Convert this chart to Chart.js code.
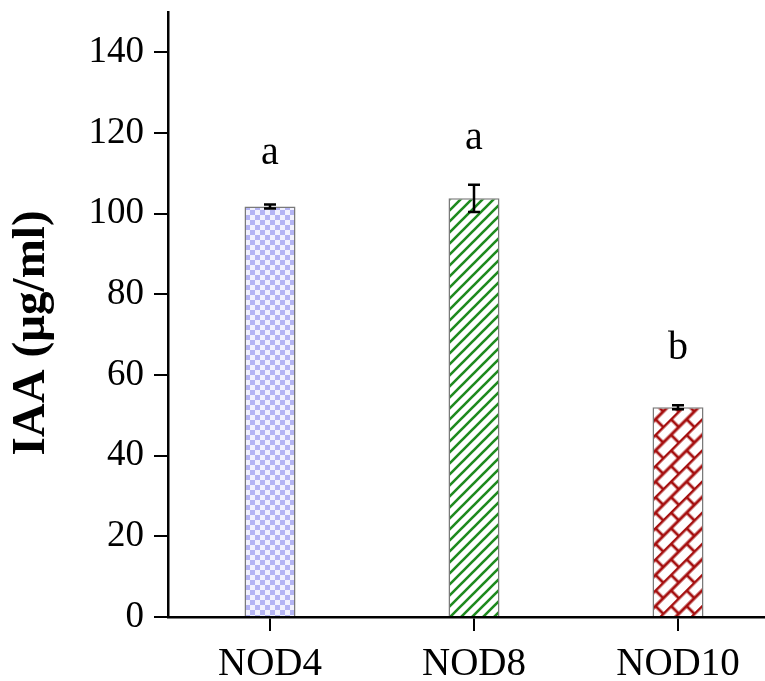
<!DOCTYPE html>
<html>
<head>
<meta charset="utf-8">
<script src="https://cdn.jsdelivr.net/npm/chart.js@4"></script>
<style>
  html, body { margin: 0; padding: 0; background: #fff; overflow: hidden; }
  #wrap { width: 780px; height: 681px; }
</style>
</head>
<body>
<div id="wrap"><canvas id="chart"></canvas></div>
<script>
// data
const categories = ['NOD4', 'NOD8', 'NOD10'];
const iaaMeans = [101.8, 103.8, 52.0];
const iaaErrors = [0.5, 3.4, 0.5];
const groupLetters = ['a', 'a', 'b'];
const letterLevels = [112.2, 116.1, 64.0];
const yTicks = [0, 20, 40, 60, 80, 100, 120, 140];
const yTitle = 'IAA (µg/ml)';

const serif = '"Liberation Serif", "Times New Roman", serif';

// fill patterns for the three bars
function checkerPattern() {
  const c = document.createElement('canvas');
  c.width = 10; c.height = 10;
  const g = c.getContext('2d');
  g.fillStyle = '#f1f1ff';
  g.fillRect(0, 0, 10, 10);
  g.fillStyle = '#b4b4f4';
  g.fillRect(0, 0, 5, 5);
  g.fillRect(5, 5, 5, 5);
  return g.createPattern(c, 'repeat');
}

function stripePattern() {
  const s = 11;
  const c = document.createElement('canvas');
  c.width = s; c.height = s;
  const g = c.getContext('2d');
  g.fillStyle = '#fff';
  g.fillRect(0, 0, s, s);
  g.strokeStyle = '#1e8a1e';
  g.lineWidth = 2.6;
  g.beginPath();
  g.moveTo(-2, s + 2); g.lineTo(s + 2, -2);
  g.moveTo(-2, 2); g.lineTo(2, -2);
  g.moveTo(s - 2, s + 2); g.lineTo(s + 2, s - 2);
  g.stroke();
  return g.createPattern(c, 'repeat');
}

function brickPattern(ctx) {
  const w = 22, h = 22;
  const c = document.createElement('canvas');
  c.width = w; c.height = h;
  const g = c.getContext('2d');
  g.fillStyle = '#fff';
  g.fillRect(0, 0, w, h);
  g.strokeStyle = '#a50f0f';
  g.lineWidth = 2.8;
  g.beginPath();
  g.moveTo(0, 1); g.lineTo(w, 1);
  g.moveTo(0, h / 2 + 1); g.lineTo(w, h / 2 + 1);
  g.moveTo(2, 0); g.lineTo(2, h / 2 + 1);
  g.moveTo(w / 2 + 2, h / 2 + 1); g.lineTo(w / 2 + 2, h);
  g.stroke();
  const p = ctx.createPattern(c, 'repeat');
  p.setTransform(new DOMMatrix().rotate(-45));
  return p;
}

const ctx = document.getElementById('chart').getContext('2d');

const errorBars = {
  id: 'errorBars',
  afterDatasetsDraw(chart) {
    const { ctx, scales: { x, y } } = chart;
    ctx.save();
    ctx.strokeStyle = '#000';
    ctx.lineWidth = 2.5;
    iaaMeans.forEach((m, i) => {
      const cx = x.getPixelForValue(i);
      const top = y.getPixelForValue(m + iaaErrors[i]);
      const bot = y.getPixelForValue(m - iaaErrors[i]);
      const half = 6;
      ctx.beginPath();
      ctx.moveTo(cx, top); ctx.lineTo(cx, bot);
      ctx.moveTo(cx - half, top); ctx.lineTo(cx + half, top);
      ctx.moveTo(cx - half, bot); ctx.lineTo(cx + half, bot);
      ctx.stroke();
    });
    // significance letters
    ctx.fillStyle = '#000';
    ctx.font = '40px ' + serif;
    ctx.textAlign = 'center';
    ctx.textBaseline = 'alphabetic';
    groupLetters.forEach((t, i) => {
      ctx.fillText(t, x.getPixelForValue(i), y.getPixelForValue(letterLevels[i]));
    });
    // y axis title, sits a little below the middle of the axis in the figure
    ctx.translate(32, 333);
    ctx.rotate(-Math.PI / 2);
    ctx.font = 'bold 47px ' + serif;
    ctx.textBaseline = 'middle';
    ctx.fillText(yTitle, 0, 0);
    ctx.restore();
  }
};

new Chart(ctx, {
  type: 'bar',
  data: {
    labels: categories,
    datasets: [{
      label: 'IAA',
      data: iaaMeans,
      backgroundColor: [checkerPattern(), stripePattern(), brickPattern(ctx)],
      borderColor: '#7a7a7a',
      borderWidth: 1.5,
      barPercentage: 0.25,
      categoryPercentage: 1.0,
    }],
  },
  options: {
    responsive: true,
    maintainAspectRatio: false,
    animation: false,
    layout: { padding: { top: 12, left: 0, right: 0, bottom: 0 } },
    plugins: { legend: { display: false }, tooltip: { enabled: false } },
    scales: {
      x: {
        grid: { drawOnChartArea: false, offset: false, tickLength: 14, lineWidth: 2, color: '#000' },
        border: { display: true, color: '#000', width: 2.5 },
        ticks: { color: '#000', font: { family: serif, size: 39 }, padding: 10 },
        afterFit(scale) {
          scale.height = 64;
          scale.paddingLeft = 0;
          scale.paddingRight = 0;
        },
      },
      y: {
        min: 0,
        max: 150,
        afterBuildTicks(scale) { scale.ticks = yTicks.map((v) => ({ value: v })); },
        grid: { drawOnChartArea: false, tickLength: 14, lineWidth: 2, color: '#000' },
        border: { display: true, color: '#000', width: 2.5 },
        ticks: { color: '#000', font: { family: serif, size: 37 }, padding: 10 },
        title: { display: false },
        afterFit(scale) {
          scale.width = 168;
          scale.paddingTop = 0;
          scale.paddingBottom = 0;
        },
      },
    },
  },
  plugins: [errorBars],
});
</script>
</body>
</html>
